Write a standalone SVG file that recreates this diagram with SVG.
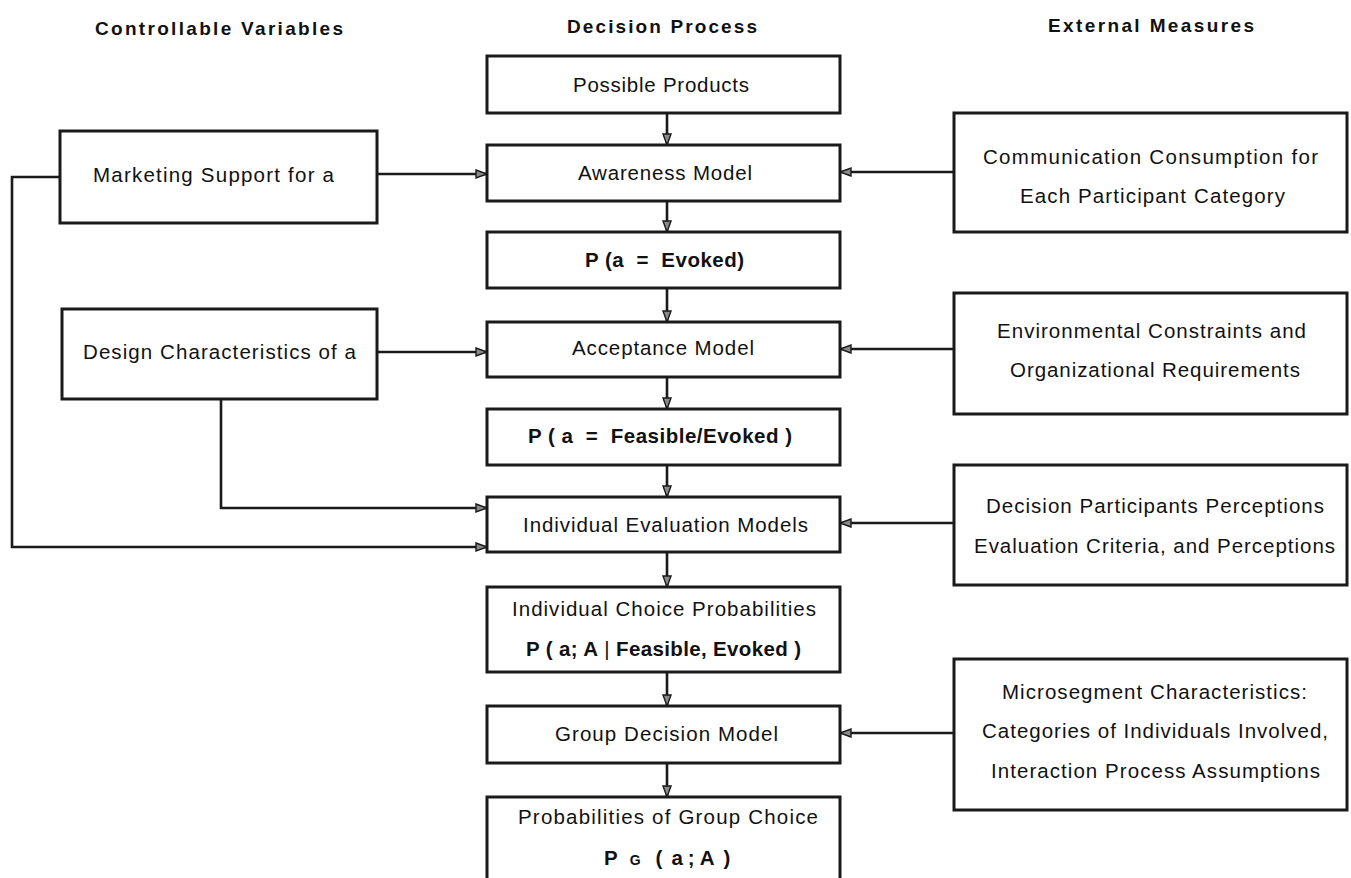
<svg xmlns="http://www.w3.org/2000/svg" width="1351" height="878" viewBox="0 0 1351 878">
<style>
.box{fill:#fff;stroke:#1a1a1a;stroke-width:3}
.t{font-family:"Liberation Sans",Arial,sans-serif;font-size:20.5px;fill:#111;text-anchor:start}
.b{font-family:"Liberation Sans",Arial,sans-serif;font-size:20.5px;font-weight:bold;fill:#111}
.h{font-family:"Liberation Sans",Arial,sans-serif;font-size:19px;font-weight:bold;fill:#111}
.c{fill:none;stroke:#1a1a1a;stroke-width:2.6;marker-end:url(#ah)}
</style>
<defs>
<marker id="ah" markerUnits="userSpaceOnUse" markerWidth="14" markerHeight="10" refX="12" refY="5" orient="auto">
<path d="M1,1 L12,5 L1,9 Z" fill="#8a8a8a" stroke="#1a1a1a" stroke-width="1.4"/>
</marker>
</defs>
<rect width="1351" height="878" fill="#fff"/>

<g id="headers">
<text class="h" x="95" y="35" textLength="248" lengthAdjust="spacing">Controllable Variables</text>
<text class="h" x="567" y="33" textLength="190" lengthAdjust="spacing">Decision Process</text>
<text class="h" x="1048" y="32" textLength="206" lengthAdjust="spacing">External Measures</text>
</g>

<g id="connectors">
<path class="c" d="M667,113 V145"/>
<path class="c" d="M667,201 V232"/>
<path class="c" d="M667,288 V322"/>
<path class="c" d="M667,377 V409"/>
<path class="c" d="M667,465 V497"/>
<path class="c" d="M667,552 V587"/>
<path class="c" d="M667,672 V706"/>
<path class="c" d="M667,763 V797"/>
<path class="c" d="M377,174 H487"/>
<path class="c" d="M60,177 H12 V547 H487"/>
<path class="c" d="M377,352 H487"/>
<path class="c" d="M221,399 V508 H487"/>
<path class="c" d="M954,172 H840"/>
<path class="c" d="M954,349 H840"/>
<path class="c" d="M954,523 H840"/>
<path class="c" d="M954,733 H840"/>
</g>

<g id="possible-products">
<rect class="box" x="487" y="56" width="353" height="57"/>
<text class="t" x="573" y="92" textLength="176" lengthAdjust="spacing">Possible Products</text>
</g>
<g id="awareness-model">
<rect class="box" x="487" y="145" width="353" height="56"/>
<text class="t" x="578" y="180" textLength="174" lengthAdjust="spacing">Awareness Model</text>
</g>
<g id="p-evoked">
<rect class="box" x="487" y="232" width="353" height="56"/>
<text class="b" x="585" y="267" textLength="159" lengthAdjust="spacing" xml:space="preserve">P (a  =  Evoked)</text>
</g>
<g id="acceptance-model">
<rect class="box" x="487" y="322" width="353" height="55"/>
<text class="t" x="572" y="355" textLength="182" lengthAdjust="spacing">Acceptance Model</text>
</g>
<g id="p-feasible">
<rect class="box" x="487" y="409" width="353" height="56"/>
<text class="b" x="528" y="443" textLength="264" lengthAdjust="spacing" xml:space="preserve">P ( a  =  Feasible/Evoked )</text>
</g>
<g id="individual-evaluation">
<rect class="box" x="487" y="497" width="353" height="55"/>
<text class="t" x="523" y="532" textLength="285" lengthAdjust="spacing">Individual Evaluation Models</text>
</g>
<g id="individual-choice">
<rect class="box" x="487" y="587" width="353" height="85"/>
<text class="t" x="512" y="616" textLength="304" lengthAdjust="spacing">Individual Choice Probabilities</text>
<text class="b" x="526" y="656" textLength="275" lengthAdjust="spacing">P ( a; A<tspan font-weight="normal"> | </tspan>Feasible, Evoked )</text>
</g>
<g id="group-decision">
<rect class="box" x="487" y="706" width="353" height="57"/>
<text class="t" x="555" y="741" textLength="223" lengthAdjust="spacing">Group Decision Model</text>
</g>
<g id="group-choice">
<rect class="box" x="487" y="797" width="353" height="100"/>
<text class="t" x="518" y="824" textLength="300" lengthAdjust="spacing">Probabilities of Group Choice</text>
<text class="b" x="604" y="865" xml:space="preserve">P<tspan font-size="14" dx="12">G</tspan><tspan dx="15">(</tspan><tspan dx="9">a</tspan><tspan dx="5">;</tspan><tspan dx="5">A</tspan><tspan dx="9">)</tspan></text>
</g>

<g id="marketing-support">
<rect class="box" x="60" y="131" width="317" height="92"/>
<text class="t" x="93" y="182" textLength="241" lengthAdjust="spacing">Marketing Support for a</text>
</g>
<g id="design-characteristics">
<rect class="box" x="62" y="309" width="315" height="90"/>
<text class="t" x="83" y="359" textLength="273" lengthAdjust="spacing">Design Characteristics of a</text>
</g>

<g id="communication-consumption">
<rect class="box" x="954" y="113" width="393" height="119"/>
<text class="t" x="983" y="164" textLength="335" lengthAdjust="spacing">Communication Consumption for</text>
<text class="t" x="1020" y="203" textLength="265" lengthAdjust="spacing">Each  Participant Category</text>
</g>
<g id="environmental-constraints">
<rect class="box" x="954" y="293" width="393" height="121"/>
<text class="t" x="997" y="338" textLength="309" lengthAdjust="spacing">Environmental Constraints and</text>
<text class="t" x="1010" y="377" textLength="290" lengthAdjust="spacing">Organizational Requirements</text>
</g>
<g id="decision-participants">
<rect class="box" x="954" y="465" width="393" height="120"/>
<text class="t" x="986" y="513" textLength="338" lengthAdjust="spacing">Decision Participants Perceptions</text>
<text class="t" x="974" y="553" textLength="361" lengthAdjust="spacing">Evaluation Criteria, and Perceptions</text>
</g>
<g id="microsegment">
<rect class="box" x="954" y="659" width="393" height="151"/>
<text class="t" x="1002" y="699" textLength="305" lengthAdjust="spacing">Microsegment Characteristics:</text>
<text class="t" x="982" y="738" textLength="346" lengthAdjust="spacing">Categories of Individuals Involved,</text>
<text class="t" x="991" y="778" textLength="329" lengthAdjust="spacing">Interaction Process Assumptions</text>
</g>
</svg>
